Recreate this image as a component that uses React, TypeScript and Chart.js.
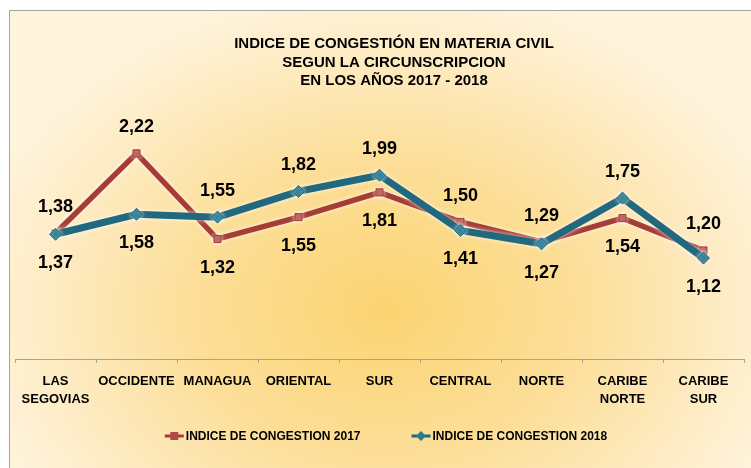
import React, { useEffect, useRef } from "react";
import { Chart, registerables } from "chart.js";

Chart.register(...registerables);

const categories: string[][] = [
  ["LAS", "SEGOVIAS"],
  ["OCCIDENTE"],
  ["MANAGUA"],
  ["ORIENTAL"],
  ["SUR"],
  ["CENTRAL"],
  ["NORTE"],
  ["CARIBE", "NORTE"],
  ["CARIBE", "SUR"],
];
const series2017 = [1.38, 2.22, 1.32, 1.55, 1.81, 1.5, 1.29, 1.54, 1.2];
const series2018 = [1.37, 1.58, 1.55, 1.82, 1.99, 1.41, 1.27, 1.75, 1.12];
const seriesNames = ["INDICE DE CONGESTION 2017", "INDICE DE CONGESTION 2018"];
const titleLines = [
  "INDICE DE CONGESTIÓN EN MATERIA CIVIL",
  "SEGUN LA CIRCUNSCRIPCION",
  "EN LOS AÑOS 2017 - 2018",
];

const RED = "#A63C36";
const RED_MARK = "#B24A43";
const BLUE = "#22687E";
const BLUE_MARK = "#2A7A8F";
const FONT = '"Liberation Sans", Arial, sans-serif';

const fmt = (v: number) => v.toFixed(2).replace(".", ",");

const backgroundPlugin = {
  id: "bgFrame",
  beforeDraw(chart: any) {
    const { ctx, width, height } = chart;
    ctx.save();
    ctx.fillStyle = "#ffffff";
    ctx.fillRect(0, 0, width, height);
    const cx = 385;
    const cy = 310;
    const rx = 430;
    const ry = 330;
    ctx.save();
    ctx.beginPath();
    ctx.rect(9, 10, width - 9, height - 10);
    ctx.clip();
    ctx.translate(cx, cy);
    ctx.scale(1, ry / rx);
    const g = ctx.createRadialGradient(0, 0, 0, 0, 0, rx);
    g.addColorStop(0, "#FBD472");
    g.addColorStop(0.45, "#FCDE98");
    g.addColorStop(0.8, "#FEECC6");
    g.addColorStop(1, "#FFF4DE");
    ctx.fillStyle = g;
    ctx.fillRect(-cx - 10, -cy * (rx / ry) - 10, width + 20, (height * rx) / ry + 20);
    ctx.restore();
    ctx.strokeStyle = "#A3A3A3";
    ctx.lineWidth = 1;
    ctx.beginPath();
    ctx.moveTo(9.5, height);
    ctx.lineTo(9.5, 10.5);
    ctx.lineTo(width, 10.5);
    ctx.stroke();
    ctx.restore();
  },
};

const titlePlugin = {
  id: "customTitle",
  afterDraw(chart: any) {
    const { ctx } = chart;
    ctx.save();
    ctx.font = `bold 15px ${FONT}`;
    ctx.fillStyle = "#000000";
    ctx.textAlign = "center";
    ctx.textBaseline = "middle";
    titleLines.forEach((t, i) => {
      ctx.fillText(t, 394, 44 + i * 18.5);
    });
    ctx.restore();
  },
};

const glowPlugin = {
  id: "glow",
  beforeDatasetDraw(chart: any) {
    const ctx = chart.ctx;
    ctx.save();
    ctx.shadowColor = "rgba(255,255,255,0.85)";
    ctx.shadowBlur = 4;
  },
  afterDatasetDraw(chart: any) {
    chart.ctx.restore();
  },
};

const labelsPlugin = {
  id: "valueLabels",
  afterDatasetsDraw(chart: any) {
    const { ctx } = chart;
    const ds = chart.data.datasets;
    ctx.save();
    ctx.font = `bold 18px ${FONT}`;
    ctx.fillStyle = "#000000";
    ctx.textAlign = "center";
    ctx.textBaseline = "middle";
    ds.forEach((d: any, di: number) => {
      const meta = chart.getDatasetMeta(di);
      const other = ds[1 - di].data;
      meta.data.forEach((el: any, i: number) => {
        const v = d.data[i];
        const o = other[i];
        const above = v > o || (v === o && di === 0);
        const y = el.y + (above ? -26 : 29);
        ctx.fillText(fmt(v), el.x, y);
      });
    });
    ctx.restore();
  },
};

const legendPlugin = {
  id: "customLegend",
  afterDraw(chart: any) {
    const { ctx } = chart;
    const ds = chart.data.datasets;
    ctx.save();
    ctx.font = `bold 12px ${FONT}`;
    ctx.textBaseline = "middle";
    ctx.textAlign = "left";
    const markerW = 19;
    const gapMT = 2;
    const itemGap = 51;
    const widths = ds.map((d: any) => ctx.measureText(d.label).width);
    const total =
      widths.reduce((a: number, w: number) => a + markerW + gapMT + w, 0) +
      itemGap * (ds.length - 1);
    let x = 386 - total / 2;
    const y = 436;
    ds.forEach((d: any, i: number) => {
      ctx.strokeStyle = d.borderColor;
      ctx.lineWidth = 3;
      ctx.beginPath();
      ctx.moveTo(x, y);
      ctx.lineTo(x + markerW, y);
      ctx.stroke();
      ctx.fillStyle = d.pointBackgroundColor;
      const cx = x + markerW / 2;
      if (d.pointStyle === "rectRot") {
        ctx.beginPath();
        ctx.moveTo(cx, y - 5);
        ctx.lineTo(cx + 5, y);
        ctx.lineTo(cx, y + 5);
        ctx.lineTo(cx - 5, y);
        ctx.closePath();
        ctx.fill();
      } else {
        ctx.fillRect(cx - 4, y - 4, 8, 8);
      }
      ctx.fillStyle = "#000000";
      ctx.fillText(d.label, x + markerW + gapMT, y + 0.5);
      x += markerW + gapMT + widths[i] + itemGap;
    });
    ctx.restore();
  },
};

export default function App() {
  const ref = useRef<HTMLCanvasElement | null>(null);

  useEffect(() => {
    if (!ref.current) return;
    const chart = new Chart(ref.current, {
      type: "line",
      data: {
        labels: categories,
        datasets: [
          {
            label: seriesNames[0],
            data: series2017,
            borderColor: RED,
            backgroundColor: RED,
            pointBackgroundColor: RED_MARK,
            pointBorderColor: RED,
            pointStyle: "rect",
            pointRadius: 5,
            pointBorderWidth: 1,
            borderWidth: 5.5,
            tension: 0,
            order: 1,
          },
          {
            label: seriesNames[1],
            data: series2018,
            borderColor: BLUE,
            backgroundColor: BLUE,
            pointBackgroundColor: BLUE_MARK,
            pointBorderColor: BLUE,
            pointStyle: "rectRot",
            pointRadius: 6,
            pointBorderWidth: 1,
            borderWidth: 7,
            tension: 0,
            order: 0,
          },
        ] as any,
      },
      options: {
        animation: false,
        responsive: false,
        devicePixelRatio: 1,
        layout: { padding: { left: 15, right: 0, top: 120, bottom: 49.9 } },
        plugins: {
          legend: { display: false },
          tooltip: { enabled: false },
          title: { display: false },
        },
        scales: {
          x: {
            offset: true,
            border: { display: true, color: "#A3A3A3", width: 1 },
            grid: {
              offset: true,
              drawOnChartArea: false,
              drawTicks: true,
              tickLength: 4,
              color: "#A3A3A3",
            },
            ticks: {
              color: "#000000",
              padding: 10,
              maxRotation: 0,
              autoSkip: false,
              font: { family: FONT, size: 13, weight: "bold", lineHeight: 1.35 },
            },
          },
          y: {
            display: false,
            min: 0.06,
            max: 2.57,
          },
        },
      },
      plugins: [backgroundPlugin, glowPlugin, labelsPlugin, titlePlugin, legendPlugin],
    });
    return () => chart.destroy();
  }, []);

  return (
    <div style={{ position: "fixed", left: 0, top: 0, width: 751, height: 468 }}>
      <canvas ref={ref} width={751} height={468} style={{ display: "block" }} />
    </div>
  );
}
